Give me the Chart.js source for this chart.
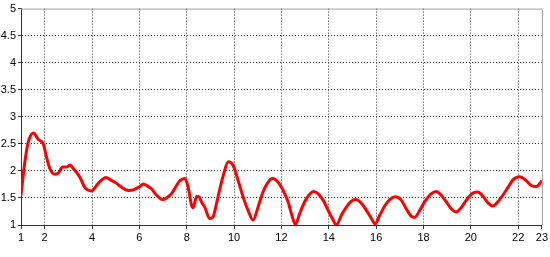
<!DOCTYPE html>
<html>
<head>
<meta charset="utf-8">
<script src="https://cdn.jsdelivr.net/npm/chart.js@4/dist/chart.umd.min.js"></script>
<style>
  html, body { margin: 0; padding: 0; background: #fff; }
  #wrap { width: 550px; height: 257px; }
</style>
</head>
<body>
<div id="wrap"><canvas id="myChart" width="550" height="257"></canvas></div>
<script>
// values
const xValues = [1, 1.17, 1.3, 1.52, 1.73, 1.94, 2.08, 2.22, 2.43, 2.57, 2.76, 2.93, 3.07, 3.21, 3.35, 3.49, 3.7, 3.98,
  4.19, 4.33, 4.59, 4.83, 4.97, 5.21, 5.53, 5.74, 6.02, 6.16, 6.37, 6.51, 6.73, 7.0, 7.14, 7.36, 7.57, 7.71, 7.92,
  8.06, 8.2, 8.27, 8.42, 8.52, 8.62, 8.76, 8.97, 9.11, 9.26, 9.4, 9.54, 9.75, 9.96, 10.17, 10.38, 10.59, 10.8,
  11.01, 11.22, 11.43, 11.62, 11.86, 12.07, 12.28, 12.42, 12.59, 12.77, 12.98, 13.19, 13.36, 13.54, 13.76, 13.97,
  14.15, 14.32, 14.53, 14.74, 14.95, 15.14, 15.38, 15.59, 15.8, 15.96, 16.15, 16.36, 16.57, 16.82, 17.06, 17.27,
  17.49, 17.62, 17.84, 18.05, 18.33, 18.54, 18.75, 18.96, 19.17, 19.38, 19.59, 19.81, 20.09, 20.3, 20.51, 20.72,
  20.93, 21.14, 21.35, 21.56, 21.77, 22.05, 22.34, 22.55, 22.76, 22.9, 23];
const yValues = [1.55, 2.19, 2.52, 2.7, 2.58, 2.5, 2.25, 2.04, 1.94, 1.96, 2.07, 2.07, 2.11, 2.04, 1.97, 1.88, 1.69, 1.63,
  1.73, 1.8, 1.88, 1.82, 1.79, 1.71, 1.64, 1.65, 1.71, 1.76, 1.71, 1.67, 1.55, 1.47, 1.5, 1.58, 1.73, 1.82, 1.86,
  1.7, 1.37, 1.32, 1.53, 1.52, 1.43, 1.33, 1.12, 1.15, 1.4, 1.67, 1.91, 2.17, 2.1, 1.82, 1.52, 1.27, 1.09,
  1.33, 1.61, 1.79, 1.86, 1.79, 1.64, 1.43, 1.21, 1.01, 1.21, 1.43, 1.57, 1.62, 1.58, 1.46, 1.27,
  1.12, 1.0, 1.18, 1.33, 1.44, 1.47, 1.4, 1.27, 1.12, 1.02, 1.18, 1.35, 1.47, 1.52, 1.46, 1.3,
  1.16, 1.14, 1.27, 1.43, 1.58, 1.62, 1.55, 1.43, 1.3, 1.24, 1.32, 1.46, 1.59, 1.61, 1.53, 1.41,
  1.35, 1.43, 1.55, 1.69, 1.83, 1.89, 1.82, 1.73, 1.71, 1.76, 1.82];
const xTickValues = [1, 2, 4, 6, 8, 10, 12, 14, 16, 18, 20, 22, 23];
const yTickValues = [1, 1.5, 2, 2.5, 3, 3.5, 4, 4.5, 5];

const points = xValues.map((x, i) => ({ x: x, y: yValues[i] }));

// gray frame on top and right side of the plot
const framePlugin = {
  id: "frame",
  afterDraw(chart) {
    const a = chart.chartArea;
    const c = chart.ctx;
    c.save();
    c.strokeStyle = "#a0a0a0";
    c.lineWidth = 1;
    c.beginPath();
    c.moveTo(a.left, a.top + 0.5);
    c.lineTo(a.right + 0.5, a.top + 0.5);
    c.lineTo(a.right + 0.5, a.bottom);
    c.stroke();
    c.restore();
  }
};

const gridColor = (ends) => (ctx) => {
  if (!ctx.tick) return "#333";
  return ends.includes(ctx.tick.value) ? "rgba(0,0,0,0)" : "#333";
};

const ctx = document.getElementById("myChart").getContext("2d");
const chart = new Chart(ctx, {
  type: "line",
  data: {
    datasets: [{
      data: points,
      borderColor: "#ff0000",
      borderWidth: 3,
      pointRadius: 0,
      fill: false,
      cubicInterpolationMode: "monotone"
    }]
  },
  options: {
    responsive: false,
    animation: false,
    layout: { padding: { top: 6, right: 7, left: 0, bottom: 0 } },
    plugins: { legend: { display: false }, tooltip: { enabled: false } },
    scales: {
      x: {
        type: "linear",
        min: 1,
        max: 23,
        afterBuildTicks: (scale) => { scale.ticks = xTickValues.map(v => ({ value: v })); },
        afterFit: (scale) => { scale.height = 32; },
        grid: { color: gridColor([1, 23]), tickColor: "#333", tickLength: 4, lineWidth: 1 },
        border: { color: "#333", width: 1, dash: [1, 2] },
        ticks: {
          color: "#000",
          padding: 2,
          maxRotation: 0,
          autoSkip: false,
          font: { family: "Liberation Sans", size: 11 },
          callback: (v) => String(v)
        }
      },
      y: {
        min: 1,
        max: 5,
        afterBuildTicks: (scale) => { scale.ticks = yTickValues.map(v => ({ value: v })); },
        afterFit: (scale) => { scale.width = 21; },
        grid: { color: gridColor([1, 5]), tickColor: "#333", tickLength: 3, lineWidth: 1 },
        border: { color: "#333", width: 1, dash: [1, 2] },
        ticks: {
          color: "#000",
          padding: 2,
          font: { family: "Liberation Sans", size: 11 },
          callback: (v) => String(v)
        }
      }
    }
  },
  plugins: [framePlugin]
});
</script>
</body>
</html>
